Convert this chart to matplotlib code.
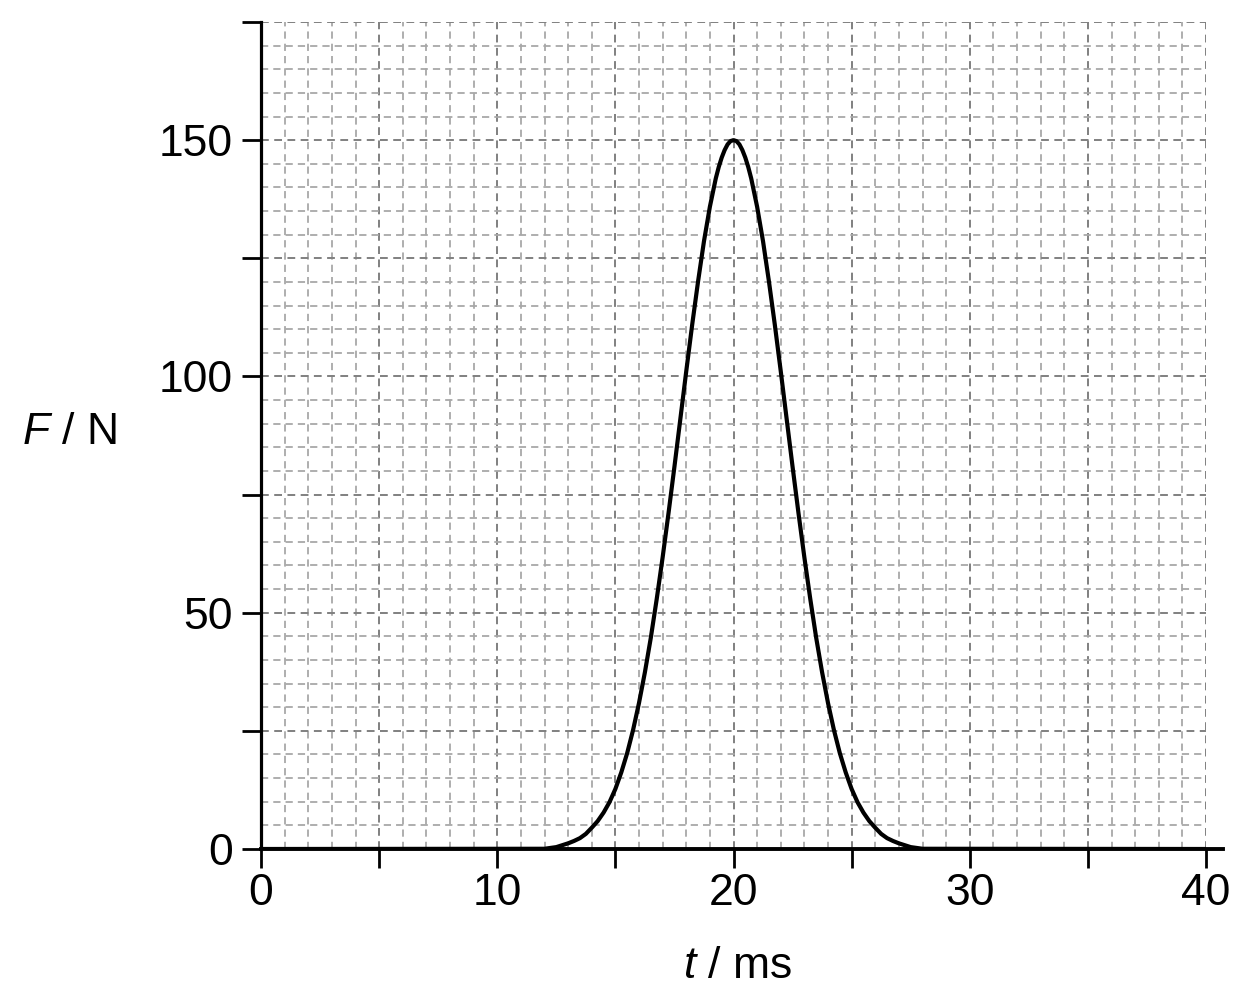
import matplotlib
matplotlib.use('Agg')
import matplotlib.pyplot as plt
from matplotlib.ticker import MultipleLocator

plt.rcParams['font.family'] = ['Liberation Sans', 'DejaVu Sans']
plt.rcParams['mathtext.fontset'] = 'custom'
plt.rcParams['mathtext.rm'] = 'Liberation Sans'
plt.rcParams['mathtext.it'] = 'Liberation Sans:italic'

# force pulse
time_ms = [0, 12, 12.5, 13, 13.25, 13.5, 13.75, 14, 14.25, 14.5, 14.75,
           15, 15.25, 15.5, 15.75, 16, 16.25, 16.5, 16.75, 17, 17.25, 17.5, 17.75,
           18, 18.25, 18.5, 18.75, 19, 19.25, 19.375, 19.5, 19.625, 19.75, 19.875, 20,
           20.125, 20.25, 20.375, 20.5, 20.625, 20.75, 21, 21.25, 21.5, 21.75, 22,
           22.25, 22.5, 22.75, 23, 23.25, 23.5, 23.75, 24, 24.25, 24.5, 24.75,
           25, 25.25, 25.5, 25.75, 26, 26.25, 26.5, 26.75, 27, 27.5, 28, 40]
force_N = [0, 0.05, 0.4, 1.2, 1.7, 2.3, 3.2, 4.5, 5.9, 7.7, 9.9,
           12.7, 16.2, 20.3, 25.2, 30.9, 37.4, 44.7, 52.9, 61.7, 71.1, 80.9, 91.0,
           101.1, 110.9, 120.1, 128.6, 135.9, 141.9, 144.3, 146.3, 147.9, 149.1, 149.8, 150.0,
           149.8, 149.1, 147.9, 146.3, 144.3, 141.9, 135.9, 128.6, 120.1, 110.9, 101.1,
           91.0, 80.9, 71.1, 61.7, 52.9, 44.7, 37.4, 30.9, 25.2, 20.3, 16.2,
           12.7, 9.9, 7.7, 5.9, 4.5, 3.2, 2.3, 1.7, 1.2, 0.4, 0.05, 0]

x_labels = ['0', '', '10', '', '20', '', '30', '', '40']
y_labels = ['0', '', '50', '', '100', '', '150', '']

fig = plt.figure(figsize=(12.43, 10.01), dpi=100)
ax = fig.add_axes([261 / 1243, 1 - 849 / 1001, (1206 - 261) / 1243, (849 - 22) / 1001])

ax.set_xlim(0, 40)
ax.set_ylim(0, 175)

ax.xaxis.set_minor_locator(MultipleLocator(1))
ax.yaxis.set_minor_locator(MultipleLocator(5))
ax.set_xticks(range(0, 41, 5))
ax.set_xticklabels(x_labels)
ax.set_yticks(range(0, 176, 25))
ax.set_yticklabels(y_labels)

ax.grid(which='minor', color='#a8a8a8', linestyle=(0, (4, 2.8)), linewidth=1.3)
ax.grid(which='major', color='#808080', linestyle=(0, (4, 2.8)), linewidth=1.4)
ax.set_axisbelow(True)

ax.tick_params(which='major', direction='out', length=14, width=2,
               labelsize=32, color='black')
ax.tick_params(axis='x', which='major', pad=3)
ax.tick_params(axis='y', which='major', pad=6)
ax.tick_params(which='minor', length=0)

for side in ['top', 'right']:
    ax.spines[side].set_visible(False)
ax.spines['left'].set_linewidth(2.3)
ax.spines['bottom'].set_linewidth(2.8)
ax.spines['bottom'].set_bounds(0, 40.7)

ax.plot(time_ms, force_N, color='black', linewidth=3.0, solid_joinstyle='round',
        solid_capstyle='round', zorder=3)

fig.text(738 / 1243, 1 - 966 / 1001, '$\\mathit{t}$ / ms', fontsize=32, ha='center', va='center')
fig.text(69 / 1243, 1 - 433 / 1001, '$\\mathit{F}$ / N', fontsize=32, ha='center', va='center')

fig.savefig('out.png', dpi=100)
